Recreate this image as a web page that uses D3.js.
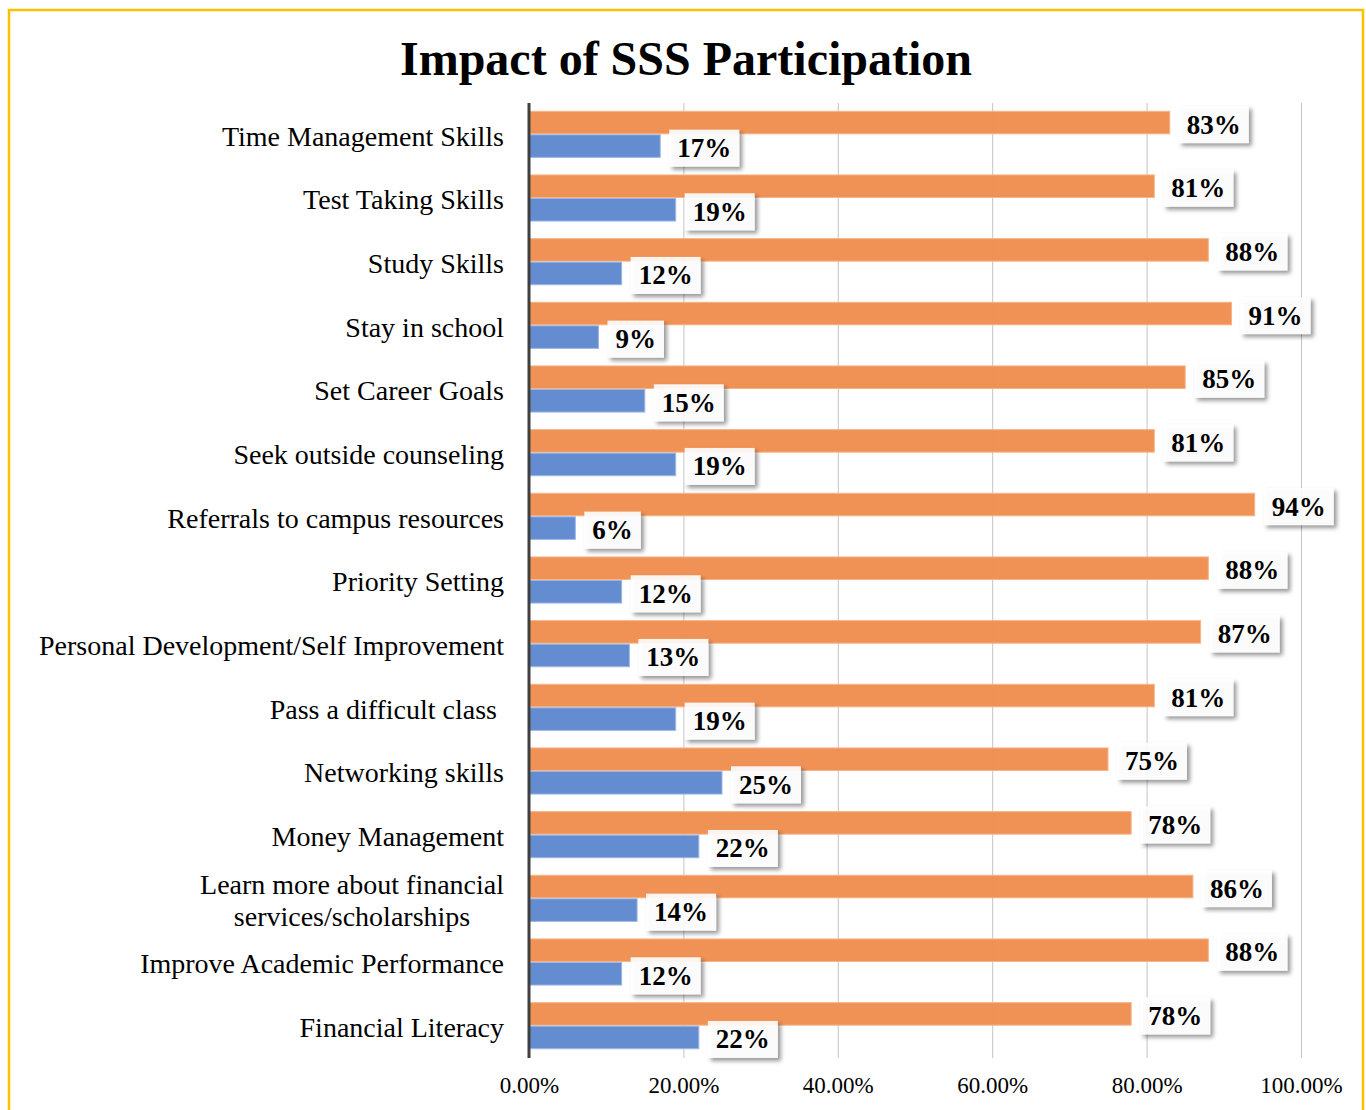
<!DOCTYPE html>
<html>
<head>
<meta charset="utf-8">
<script src="https://cdn.jsdelivr.net/npm/d3@7"></script>
<style>
  body { margin: 0; background: #fff; }
  text { font-family: "Liberation Serif", "Times New Roman", serif; }
</style>
</head>
<body>
<script>
// chart data
const categories = [
  'Time Management Skills',
  'Test Taking Skills',
  'Study Skills',
  'Stay in school',
  'Set Career Goals',
  'Seek outside counseling',
  'Referrals to campus resources',
  'Priority Setting',
  'Personal Development/Self Improvement',
  'Pass a difficult class ',
  'Networking skills',
  'Money Management',
  'Learn more about financial\nservices/scholarships',
  'Improve Academic Performance',
  'Financial Literacy'
]
const orangeValues = [83, 81, 88, 91, 85, 81, 94, 88, 87, 81, 75, 78, 86, 88, 78]
const blueValues = [17, 19, 12, 9, 15, 19, 6, 12, 13, 19, 25, 22, 14, 12, 22]
const tickValues = [0, 20, 40, 60, 80, 100]
const seriesKeys = ['orange', 'blue']

const W = 1366, H = 1110
const margin = { top: 103, right: 65, bottom: 52, left: 529 }
const plotW = 1301 - margin.left
const plotH = 1058 - margin.top

const colors = { orange: '#EF8E4F', blue: '#5F88CF' }
const strokes = { orange: '#F6B48A', blue: '#9DB6E4' }

const rows = categories.map(function(c, i) {
  return { name: c, orange: orangeValues[i], blue: blueValues[i] }
})

const svg = d3.select('body').append('svg')
  .attr('width', W)
  .attr('height', H)

const defs = svg.append('defs')
const shadow = defs.append('filter').attr('id', 'shadow')
  .attr('x', '-20%').attr('y', '-30%').attr('width', '150%').attr('height', '170%')
shadow.append('feDropShadow')
  .attr('dx', 3).attr('dy', 3).attr('stdDeviation', 2.2)
  .attr('flood-color', '#000').attr('flood-opacity', 0.45)

// outer yellow frame
svg.append('rect')
  .attr('x', 9).attr('y', 10)
  .attr('width', 1354).attr('height', 1115)
  .attr('fill', '#fff')
  .attr('stroke', '#FFC000')
  .attr('stroke-width', 2.5)

svg.append('text')
  .attr('x', 686).attr('y', 75)
  .attr('text-anchor', 'middle')
  .style('font-size', '48px')
  .style('font-weight', 'bold')
  .text('Impact of SSS Participation')

const g = svg.append('g')
  .attr('transform', 'translate(' + margin.left + ',' + margin.top + ')')

const x = d3.scaleLinear().domain([0, 100]).range([0, plotW])
const y = d3.scaleBand().domain(categories).range([0, plotH])
  .paddingInner(0.26).paddingOuter(0.13)
const ySub = d3.scaleBand().domain(seriesKeys).range([0, y.bandwidth()])

// gridlines
g.selectAll('.grid')
  .data(tickValues.slice(1))
  .enter().append('line')
  .attr('class', 'grid')
  .attr('x1', function(d) { return x(d) + 0.5 })
  .attr('x2', function(d) { return x(d) + 0.5 })
  .attr('y1', 0).attr('y2', plotH)
  .attr('stroke', '#C4C4C4')
  .attr('stroke-width', 1)

// bars
const groups = g.selectAll('.cat')
  .data(rows)
  .enter().append('g')
  .attr('class', 'cat')
  .attr('transform', function(d) { return 'translate(0,' + y(d.name) + ')' })

seriesKeys.forEach(function(k) {
  groups.append('rect')
    .attr('x', 0)
    .attr('y', ySub(k))
    .attr('width', function(d) { return x(d[k]) })
    .attr('height', ySub.bandwidth() - 1)
    .attr('fill', colors[k])
    .attr('fill-opacity', 0.97)
    .attr('stroke', strokes[k])
    .attr('stroke-width', 1)
})

// x axis tick labels
const xAxis = d3.axisBottom(x)
  .tickValues(tickValues)
  .tickSize(0)
  .tickFormat(function(d) { return d.toFixed(2) + '%' })

const axG = g.append('g')
  .attr('transform', 'translate(0,' + plotH + ')')
  .call(xAxis)
axG.select('.domain').remove()
axG.selectAll('text')
  .attr('y', 35)
  .attr('dy', 0)
  .style('font-size', '23px')
  .style('font-family', '"Liberation Serif", "Times New Roman", serif')
  .attr('fill', '#000')

// category labels
groups.each(function(d) {
  const lines = d.name.split('\n')
  const cy = y.bandwidth() / 2 + 1
  const sel = d3.select(this)
  if (lines.length === 1) {
    sel.append('text')
      .attr('x', -25)
      .attr('y', cy)
      .attr('dy', '0.35em')
      .attr('text-anchor', 'end')
      .attr('xml:space', 'preserve')
      .style('white-space', 'pre')
      .style('font-size', '28px')
      .text(d.name)
  } else {
    const t = sel.append('text')
      .attr('text-anchor', 'middle')
      .style('font-size', '28px')
    lines.forEach(function(line, i) {
      t.append('tspan')
        .attr('y', cy + (i - (lines.length - 1) / 2) * 32)
        .attr('dy', '0.35em')
        .text(line)
    })
    let maxW = 0
    t.selectAll('tspan').each(function() {
      maxW = Math.max(maxW, this.getComputedTextLength())
    })
    t.selectAll('tspan').attr('x', -25 - maxW / 2)
  }
})

// value labels in white boxes
seriesKeys.forEach(function(k) {
  groups.each(function(d) {
    const sel = d3.select(this)
    const cy = ySub(k) + ySub.bandwidth() / 2 + 1
    const bx = x(d[k]) + 9
    const box = sel.append('rect')
      .attr('fill', '#fff')
      .attr('fill-opacity', 0.9)
      .attr('filter', 'url(#shadow)')
    const t = sel.append('text')
      .attr('x', bx + 8)
      .attr('y', cy)
      .attr('dy', '0.35em')
      .style('font-size', '27px')
      .style('font-weight', 'bold')
      .text(d[k] + '%')
    const tw = t.node().getComputedTextLength()
    box.attr('x', bx).attr('y', cy - 18)
      .attr('width', tw + 16).attr('height', 37)
  })
})

// vertical axis line
g.append('line')
  .attr('x1', 0).attr('x2', 0)
  .attr('y1', 0).attr('y2', plotH)
  .attr('stroke', '#404040')
  .attr('stroke-width', 3)
</script>
</body>
</html>
